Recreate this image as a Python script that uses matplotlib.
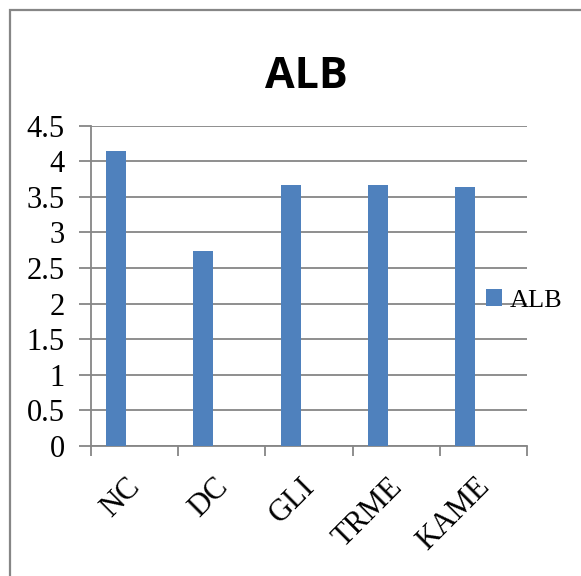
import numpy as np
import matplotlib.pyplot as plt
from matplotlib.patches import Rectangle

groups = ["NC", "DC", "GLI", "TRME", "KAME"]
alb = [4.14, 2.74, 3.66, 3.67, 3.64]
series_name = "ALB"

bar_color = "#4F81BD"
line_color = "#868686"
serif = "Liberation Serif"

fig = plt.figure(figsize=(5.81, 5.76), dpi=100)
ax = fig.add_axes([0.1566, 0.2257, 0.7504, 0.5561])

x = np.arange(len(groups))
ax.bar(x - 0.21, alb, width=0.23, color=bar_color, label=series_name, zorder=3)

ax.set_xlim(-0.5, len(groups) - 0.5)
ax.set_ylim(0, 4.5)
ax.set_yticks(np.arange(0, 4.51, 0.5))
ax.set_yticklabels([f"{v:g}" for v in np.arange(0, 4.51, 0.5)],
                   fontfamily=serif, fontsize=22)
ax.yaxis.grid(True, color=line_color, linewidth=1.3, zorder=0)
ax.set_axisbelow(True)

# category boundary ticks; the rotated names hang from hidden minor ticks
ax.set_xticks(np.arange(-0.5, len(groups), 1.0))
ax.set_xticklabels([])
ax.set_xticks(x - 0.1, minor=True)
ax.set_xticklabels(groups, minor=True, rotation=45, ha="right",
                   rotation_mode="anchor", fontfamily=serif, fontsize=22)
ax.tick_params(axis="x", which="major", length=7, width=1.3, color=line_color)
ax.tick_params(axis="x", which="minor", length=0, pad=19)
ax.tick_params(axis="y", length=9, width=1.3, color=line_color, pad=10)

for side in ("top", "right"):
    ax.spines[side].set_visible(False)
for side in ("left", "bottom"):
    ax.spines[side].set_color(line_color)
    ax.spines[side].set_linewidth(1.3)

fig.text(0.528, 0.868, "ALB", ha="center", va="center",
         fontsize=31, fontweight="bold", fontfamily="Open Sans")

leg = fig.legend(loc="center left", bbox_to_anchor=(0.836, 0.478),
                 frameon=False, prop={"family": serif, "size": 19},
                 handlelength=0.6, handleheight=0.6, handletextpad=0.3,
                 borderaxespad=0, borderpad=0)

fig.add_artist(Rectangle((10 / 581, -0.05), 1.1, 1 - 10 / 576 + 0.05,
                         transform=fig.transFigure, fill=False,
                         edgecolor=line_color, linewidth=1.6))

fig.savefig("out.png", dpi=100)
